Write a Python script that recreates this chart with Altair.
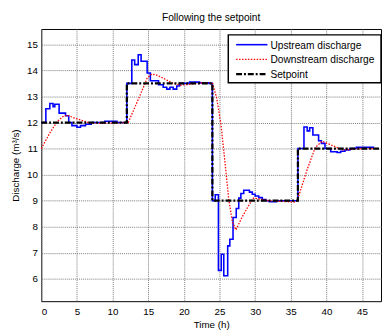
import altair as alt
import pandas as pd

# ---- data ----
up_t = [0, 0.64, 1.2, 1.65, 1.9, 2.5, 3.4, 3.85, 4.3, 5.0, 5.5, 6.2, 7.0, 8.9, 10.6,
        12.0, 12.7, 13.1, 13.6, 14.0, 14.85, 15.3, 16.45, 17.1, 17.6, 18.05, 18.5, 19.0, 19.4, 20.8, 22.2, 23.55,
        24.0, 24.4, 24.85, 25.25, 25.6, 26.15, 26.45, 26.9, 27.35, 27.7, 28.0, 28.4, 29.2, 29.6, 30.0, 30.5, 31.0,
        31.5, 32.0, 33.0,
        36.0, 36.85, 37.3, 37.65, 38.1, 38.9, 39.3, 39.8, 40.6, 41.5, 42.0, 42.6, 43.3, 44.2, 46.7]
up_q = [12.0, 12.53, 12.73, 12.61, 12.7, 12.36, 12.26, 12.0, 11.88, 11.82, 11.88, 11.93, 12.0, 12.05, 12.0,
        13.5, 14.4, 14.22, 14.6, 14.35, 13.9, 13.6, 13.45, 13.35, 13.28, 13.35, 13.28, 13.4, 13.5, 13.55, 13.52, 13.5,
        9.0, 9.23, 6.33, 6.95, 6.12, 7.27, 7.52, 8.36, 8.7, 9.1, 9.28, 9.4, 9.33, 9.25, 9.18, 9.12, 9.05,
        9.0, 8.96, 9.0,
        11.0, 11.83, 11.68, 11.8, 11.52, 11.3, 11.2, 11.0, 10.88, 10.85, 10.9, 10.95, 11.0, 11.05, 11.05]

dn_t = [0, 1.3, 2.3, 3.0, 3.6, 4.8, 6.6, 8.0, 10.0, 12.0,
        12.2, 13.9, 14.85, 15.5, 16.2, 17.1, 18.5, 19.5, 21.0, 22.5, 24.0,
        24.6, 25.2, 25.8, 26.3, 26.8, 27.3, 28.15, 29.05, 29.75, 30.9, 32.0, 33.5, 35.5, 35.9,
        37.3, 38.45, 39.4, 41.0, 42.3, 43.5, 45.0, 46.7]
dn_q = [11.0, 11.65, 12.05, 12.22, 12.28, 12.16, 12.0, 11.97, 11.98, 12.0,
        12.0, 13.07, 13.7, 13.86, 13.82, 13.7, 13.5, 13.43, 13.47, 13.52, 13.52,
        12.95, 11.95, 10.4, 9.05, 8.2, 7.88, 8.36, 8.8, 9.1, 9.05, 9.0, 8.98, 8.95, 9.0,
        10.2, 11.05, 11.28, 11.1, 10.95, 10.97, 11.0, 11.0]

sp_t = [0, 12, 24, 36, 47.66]
sp_q = [12.0, 13.5, 9.0, 11.0, 11.0]

x_ticks = [0, 5, 10, 15, 20, 25, 30, 35, 40, 45]
y_ticks = [6, 7, 8, 9, 10, 11, 12, 13, 14, 15]

legend_labels = ["Upstream discharge", "Downstream discharge", "Setpoint"]

FONT = "Liberation Sans"
W, H = 347, 278

up = pd.DataFrame({"t": up_t, "q": up_q})
dn = pd.DataFrame({"t": dn_t, "q": dn_q})
sp = pd.DataFrame({"t": sp_t, "q": sp_q})

xs = alt.Scale(domain=[0, 47.66], nice=False, zero=False)
ys = alt.Scale(domain=[5.148, 15.586], nice=False, zero=False)

xax = alt.Axis(values=x_ticks, title="Time (h)", grid=True, ticks=False, domain=False,
               labelPadding=6, titleY=27, titleBaseline="alphabetic", titleFontWeight="normal")
yax = alt.Axis(values=y_ticks, title="Discharge (m³/s)", grid=True, ticks=False, domain=False,
               labelPadding=4, titleX=-23, titleBaseline="alphabetic", titleFontWeight="normal")

X = alt.X("t:Q", scale=xs, axis=xax)
Y = alt.Y("q:Q", scale=ys, axis=yax)

blue = alt.Chart(up).mark_line(color="#0000ff", strokeWidth=1.6, interpolate="step-after").encode(x=X, y=Y)
red = alt.Chart(dn).mark_line(color="#ff0000", strokeWidth=1.3, strokeDash=[1.5, 1.5]).encode(x=X, y=Y)
black = alt.Chart(sp).mark_line(color="#000000", strokeWidth=2.3, strokeDash=[6, 2, 2, 2],
                                interpolate="step-after").encode(x=X, y=Y)

# legend box
lx0, lx1, ly0, ly1 = 191, 347, 6, 55
box = alt.Chart(pd.DataFrame({"a": [0]})).mark_rect(fill="white", stroke="black", strokeWidth=1.5).encode(
    x=alt.value(lx0), x2=alt.value(lx1), y=alt.value(ly0), y2=alt.value(ly1))

styles = [
    dict(color="#0000ff", strokeWidth=1.6),
    dict(color="#ff0000", strokeWidth=1.3, strokeDash=[1.5, 1.5]),
    dict(color="#000000", strokeWidth=2.3, strokeDash=[6, 2, 2, 2]),
]
rows_y = [16, 31, 46]
leg_layers = []
for lab, st, yy in zip(legend_labels, styles, rows_y):
    leg_layers.append(
        alt.Chart(pd.DataFrame({"a": [0]})).mark_rule(**st).encode(
            x=alt.value(199), x2=alt.value(231), y=alt.value(yy)))
    leg_layers.append(
        alt.Chart(pd.DataFrame({"label": [lab]})).mark_text(
            align="left", baseline="middle", font=FONT, fontSize=10.4, color="black").encode(
            x=alt.value(234), y=alt.value(yy + 1), text="label:N"))

chart = alt.layer(blue, red, black, box, *leg_layers).properties(
    width=W, height=H,
    title=alt.Title("Following the setpoint", font=FONT, fontSize=10.4, fontWeight="normal",
                    color="black", anchor="middle", offset=6),
    autosize=alt.AutoSizeParams(type="none"),
    padding={"left": 34, "top": 18, "right": 1, "bottom": 27},
).configure_view(stroke="black", strokeWidth=1).configure_axis(
    labelFont=FONT, titleFont=FONT, labelFontSize=10, titleFontSize=10,
    labelColor="black", titleColor="black",
    gridColor="#7a7a7a", gridDash=[1, 1], gridWidth=1, gridOpacity=1,
)

chart.save("out.html", embed_options={"renderer": "svg", "actions": False})
